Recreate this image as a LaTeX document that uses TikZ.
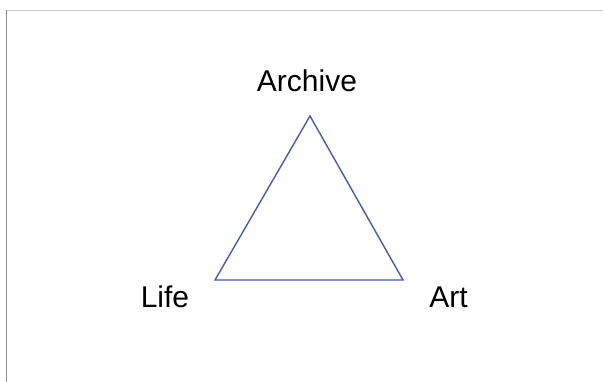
\documentclass[tikz,border=0pt]{standalone}
\usepackage{fontspec}
\setmainfont{Liberation Sans}
\definecolor{triblue}{RGB}{72,92,168}
\definecolor{toprule}{RGB}{200,200,200}
\definecolor{leftrule}{RGB}{140,140,140}
\begin{document}
\begin{tikzpicture}[x=1pt,y=-1pt,
  lbl/.style={anchor=base,inner sep=0pt,font=\fontsize{30}{30}\selectfont},
  tri/.style={draw=triblue,line width=1.4pt,line join=miter}]
\useasboundingbox[fill=white] (0,0) rectangle (603,382);
\draw[toprule,line width=1pt] (6.5,10.5) -- (603,10.5);
\draw[leftrule,line width=1pt] (6.5,10.5) -- (6.5,382);
\coordinate (top) at (310,116);
\coordinate (bl) at (215,280);
\coordinate (br) at (403,280);
\draw[tri] (top) -- (bl) -- (br) -- cycle;
\node[lbl] (archive) at (307,92) {Archive};
\node[lbl] (life) at (165,308) {Life};
\node[lbl] (art) at (448.5,308) {Art};
\end{tikzpicture}
\end{document}
